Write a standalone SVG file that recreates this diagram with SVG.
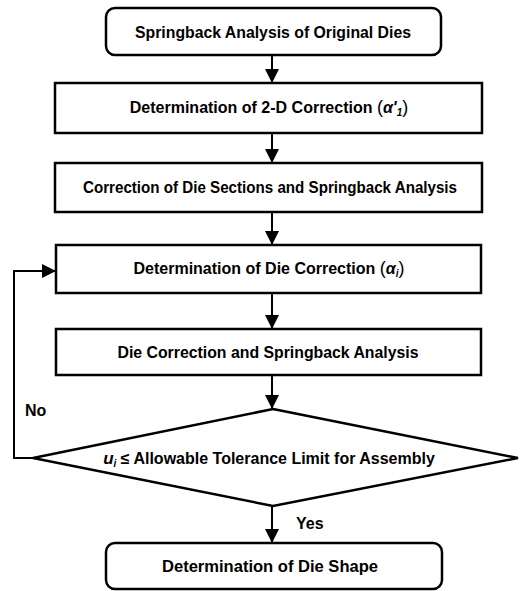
<svg xmlns="http://www.w3.org/2000/svg" width="525" height="591" viewBox="0 0 525 591">
<style>
.box{fill:#fff;stroke:#000;stroke-width:2.5}
.t{font-family:"Liberation Sans",Arial,sans-serif;font-weight:bold;font-size:16px;fill:#000;text-anchor:middle}
.lbl{font-family:"Liberation Sans",Arial,sans-serif;font-weight:bold;font-size:16px;fill:#000}
.c{fill:none;stroke:#000;stroke-width:2}
</style>
<defs>
<marker id="ah" markerUnits="userSpaceOnUse" markerWidth="14" markerHeight="14" viewBox="0 0 14 14" refX="13" refY="7" orient="auto">
<path d="M0,0 L14,7 L0,14 Z" fill="#000"/>
</marker>
</defs>
<rect width="525" height="591" fill="#fff"/>
<g id="connectors">
<line class="c" x1="272" y1="56" x2="272" y2="82" marker-end="url(#ah)"/>
<line class="c" x1="272" y1="134" x2="272" y2="162" marker-end="url(#ah)"/>
<line class="c" x1="272" y1="213" x2="272" y2="244" marker-end="url(#ah)"/>
<line class="c" x1="272" y1="294" x2="272" y2="328" marker-end="url(#ah)"/>
<line class="c" x1="272" y1="376" x2="272" y2="408" marker-end="url(#ah)"/>
<line class="c" x1="272" y1="507" x2="272" y2="542" marker-end="url(#ah)"/>
<polyline class="c" points="33,458 14,458 14,271 55,271" marker-end="url(#ah)"/>
<text class="lbl" x="25" y="416">No</text>
<text class="lbl" x="296" y="529">Yes</text>
</g>
<g id="n1">
<rect class="box" x="106" y="8" width="335" height="47" rx="9"/>
<text class="t" x="273" y="38" textLength="276" lengthAdjust="spacingAndGlyphs">Springback Analysis of Original Dies</text>
</g>
<g id="n2">
<rect class="box" x="55" y="83" width="427" height="50"/>
<text class="t" x="269" y="113">Determination of 2-D Correction <tspan font-weight="normal" font-size="18">(</tspan><tspan font-style="italic">α</tspan><tspan font-style="italic">'</tspan><tspan font-style="italic" font-size="10" dy="3">1</tspan><tspan font-weight="normal" font-size="18" dy="-3">)</tspan></text>
</g>
<g id="n3">
<rect class="box" x="55" y="163" width="427" height="49"/>
<text class="t" x="270" y="193" textLength="374" lengthAdjust="spacingAndGlyphs">Correction of Die Sections and Springback Analysis</text>
</g>
<g id="n4">
<rect class="box" x="56" y="245" width="425" height="48"/>
<text class="t" x="269" y="274">Determination of Die Correction <tspan font-weight="normal" font-size="18">(</tspan><tspan font-style="italic">α</tspan><tspan font-style="italic" font-size="10" dy="3">i</tspan><tspan font-weight="normal" font-size="18" dy="-3">)</tspan></text>
</g>
<g id="n5">
<rect class="box" x="56" y="329" width="425" height="46"/>
<text class="t" x="268" y="358" textLength="301" lengthAdjust="spacingAndGlyphs">Die Correction and Springback Analysis</text>
</g>
<g id="n6">
<polygon class="box" points="273,409 518,458 273,506 33,458"/>
<text class="t" x="269" y="464"><tspan font-style="italic" font-size="17">u</tspan><tspan font-style="italic" font-size="10" dy="3">i</tspan><tspan dy="-3"> ≤ Allowable Tolerance Limit for Assembly</tspan></text>
</g>
<g id="n7">
<rect class="box" x="106" y="543" width="336" height="46" rx="9"/>
<text class="t" x="270" y="572" textLength="216" lengthAdjust="spacingAndGlyphs">Determination of Die Shape</text>
</g>
</svg>
